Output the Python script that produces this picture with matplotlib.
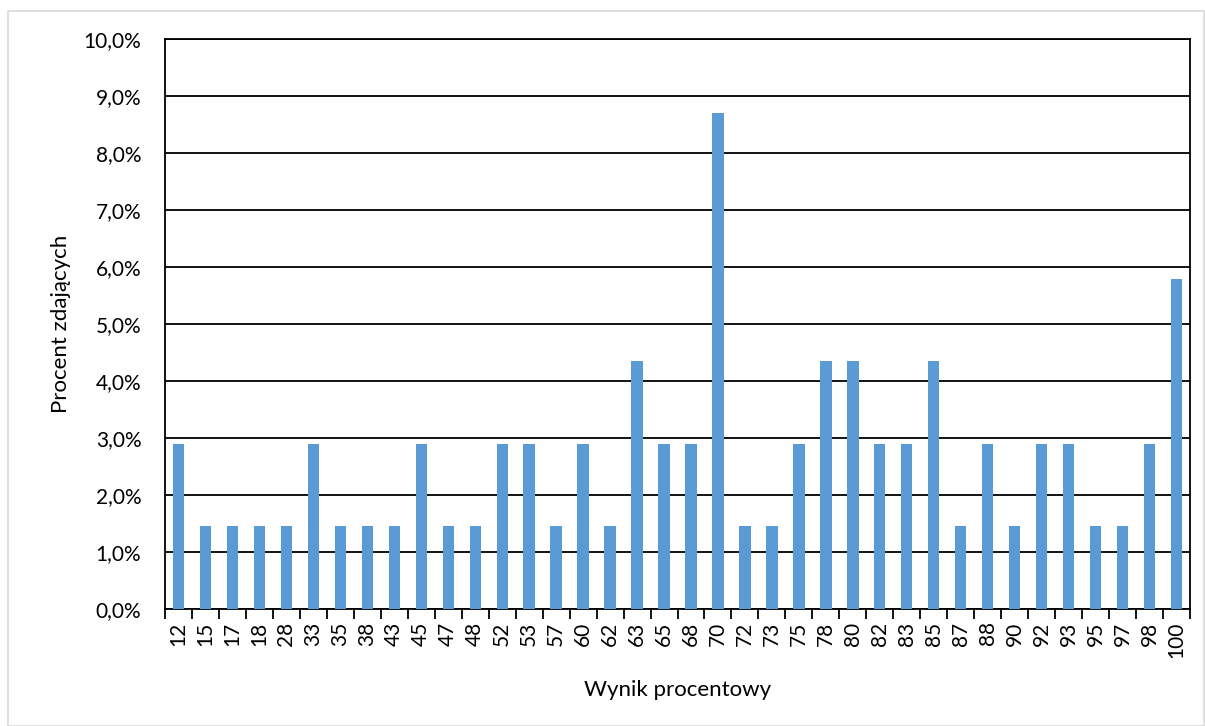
import numpy as np
import matplotlib.pyplot as plt
from matplotlib.ticker import FuncFormatter
from matplotlib.patches import Rectangle

# wynik procentowy i liczba zdajacych (n = 69)
wyniki = ['12', '15', '17', '18', '28', '33', '35', '38', '43', '45', '47', '48',
          '52', '53', '57', '60', '62', '63', '65', '68', '70', '72', '73', '75',
          '78', '80', '82', '83', '85', '87', '88', '90', '92', '93', '95', '97',
          '98', '100']
liczba = [2, 1, 1, 1, 1, 2, 1, 1, 1, 2, 1, 1,
          2, 2, 1, 2, 1, 3, 2, 2, 6, 1, 1, 2,
          3, 3, 2, 2, 3, 1, 2, 1, 2, 2, 1, 1,
          2, 4]
procent = np.array(liczba) / sum(liczba) * 100

plt.rcParams['font.family'] = ['Lato', 'DejaVu Sans']

fig = plt.figure(figsize=(12.05, 7.26), dpi=100)
ax = fig.add_axes([0.1369, 0.1612, 0.8507, 0.7851])

# ramka wykresu
fig.patches.append(Rectangle((8 / 1205, 0), 1 - 9 / 1205, 1 - 11 / 726,
                             transform=fig.transFigure, fill=False,
                             edgecolor='#d9d9d9', linewidth=1.2))

x = np.arange(len(wyniki))
ax.bar(x, procent, width=0.42, color='#5b9bd5', zorder=3)

ax.set_xlim(-0.5, len(wyniki) - 0.5)
ax.set_ylim(0, 10)
ax.set_yticks(np.arange(0, 11, 1))
ax.yaxis.set_major_formatter(FuncFormatter(lambda v, p: ('%.1f%%' % v).replace('.', ',')))
ax.grid(axis='y', color='black', linewidth=1.3, zorder=1)

ax.set_xticks(x)
ax.set_xticklabels(wyniki, rotation=90)
ax.set_xticks(np.arange(-0.5, len(wyniki), 1), minor=True)
ax.tick_params(axis='x', which='major', length=0, pad=9, labelsize=15)
ax.tick_params(axis='x', which='minor', length=7, width=1.3, direction='out')
ax.tick_params(axis='y', length=0, pad=17, labelsize=15)

for s in ['left', 'right', 'bottom', 'top']:
    ax.spines[s].set_linewidth(1.3)
    ax.spines[s].set_color('black')

ax.set_xlabel('Wynik procentowy', fontsize=16, labelpad=16)
ax.set_ylabel('Procent zdających', fontsize=16, labelpad=9)

fig.savefig('out.png', dpi=100)
